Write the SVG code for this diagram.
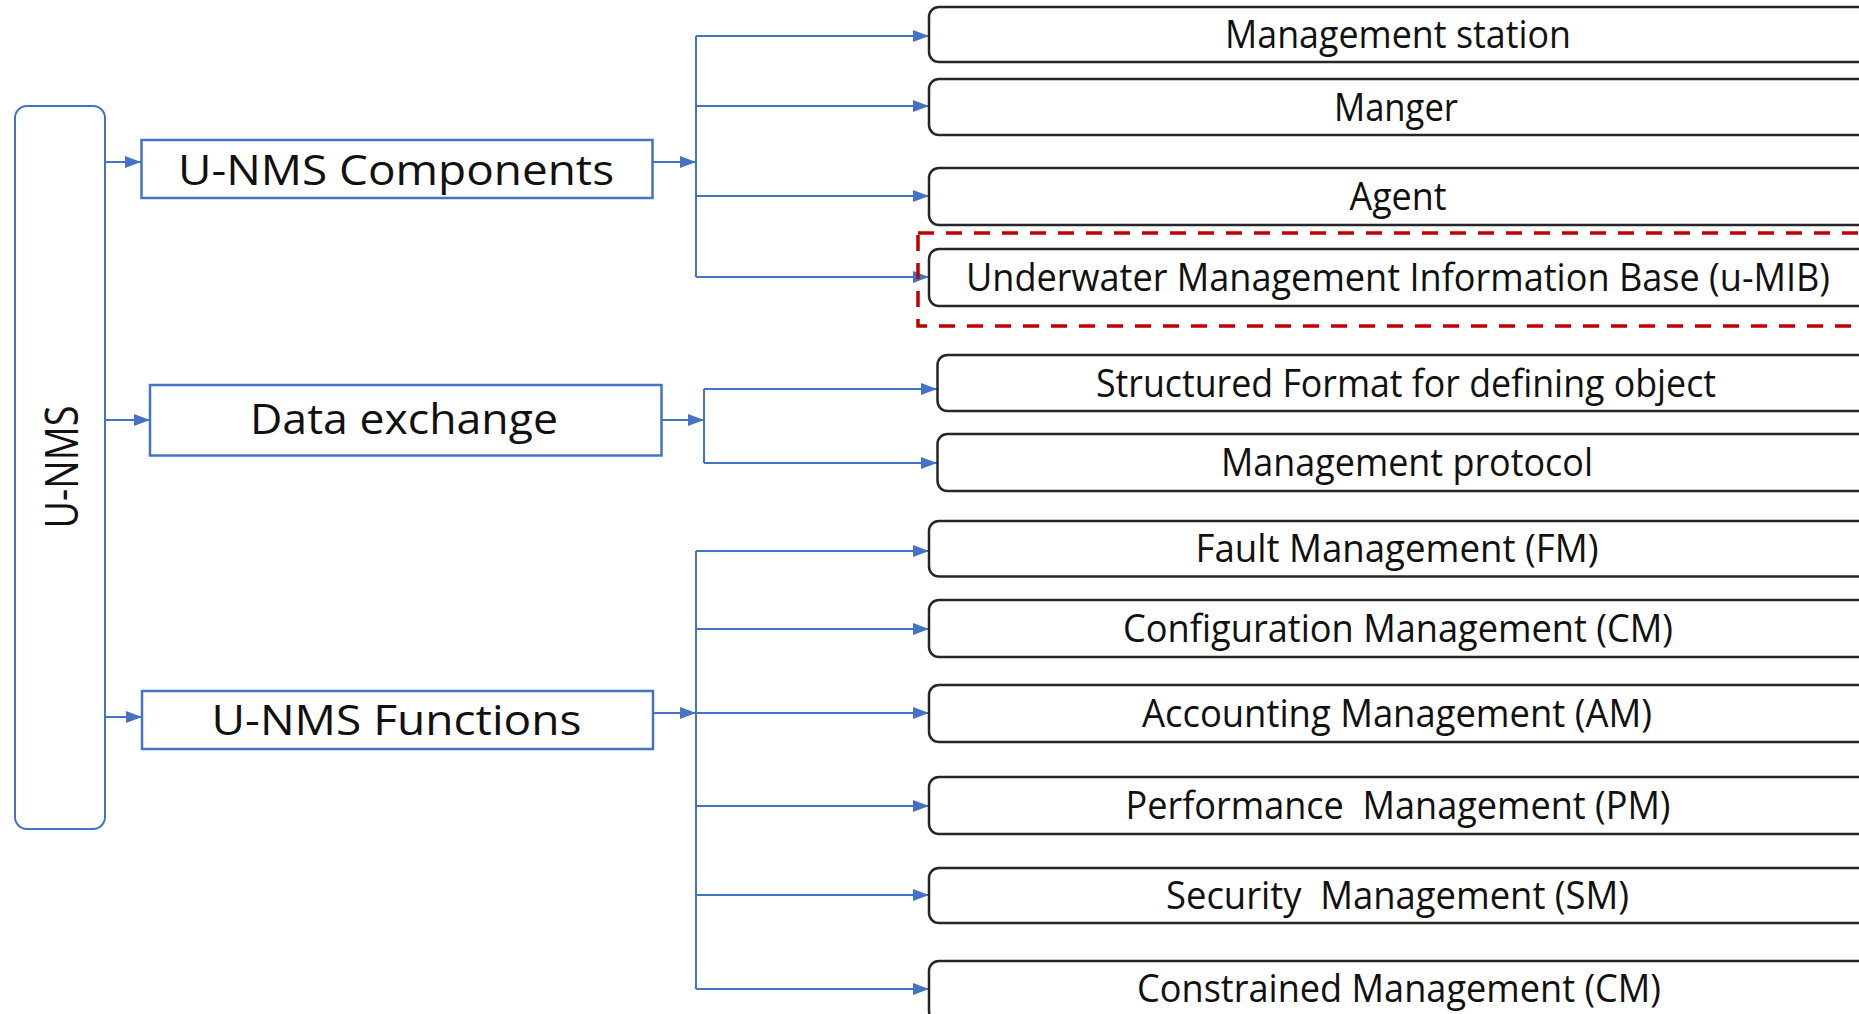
<svg xmlns="http://www.w3.org/2000/svg" width="1859" height="1014" viewBox="0 0 1859 1014">
  <style>
    text { font-family: "Open Sans", "Noto Sans", "DejaVu Sans", sans-serif; fill: #111; }
    .root { fill: #fff; stroke: #4472C4; stroke-width: 2; }
    .cat { fill: #fff; stroke: #4472C4; stroke-width: 2.5; }
    .cat-label { font-size: 42px; text-anchor: middle; }
    .leaf { fill: #fff; stroke: #262626; stroke-width: 2.5; }
    .leaf-label { font-size: 38px; text-anchor: middle; }
    .link { fill: none; stroke: #4472C4; stroke-width: 2; }
    .arrow { marker-end: url(#head); }
    .focus { fill: none; stroke: #C00000; stroke-width: 3.5; stroke-dasharray: 16 12; }
  </style>
  <defs>
    <marker id="head" markerUnits="userSpaceOnUse" markerWidth="16" markerHeight="12" refX="16" refY="6" orient="auto">
      <path d="M0,0 L16,6 L0,12 z" fill="#4472C4"/>
    </marker>
  </defs>

  <rect width="1859" height="1014" fill="#fff"/>

  <!-- connectors -->
  <g id="connectors">
    <!-- root to categories -->
    <line class="link arrow" x1="98" y1="162" x2="141" y2="162"/>
    <line class="link arrow" x1="105" y1="420" x2="150" y2="420"/>
    <line class="link arrow" x1="101" y1="717" x2="142" y2="717"/>

    <!-- components fan-out -->
    <line class="link arrow" x1="653" y1="162" x2="696" y2="162"/>
    <path class="link" d="M696,36 V277"/>
    <line class="link arrow" x1="696" y1="36" x2="929" y2="36"/>
    <line class="link arrow" x1="696" y1="106" x2="929" y2="106"/>
    <line class="link arrow" x1="696" y1="196" x2="929" y2="196"/>
    <line class="link arrow" x1="696" y1="277" x2="929" y2="277"/>

    <!-- data exchange fan-out -->
    <line class="link arrow" x1="662" y1="420" x2="704" y2="420"/>
    <path class="link" d="M704,389 V463"/>
    <line class="link arrow" x1="704" y1="389" x2="937" y2="389"/>
    <line class="link arrow" x1="704" y1="463" x2="937" y2="463"/>

    <!-- functions fan-out -->
    <line class="link arrow" x1="653" y1="713" x2="696" y2="713"/>
    <path class="link" d="M696,551 V989"/>
    <line class="link arrow" x1="696" y1="551" x2="929" y2="551"/>
    <line class="link arrow" x1="696" y1="629" x2="929" y2="629"/>
    <line class="link arrow" x1="696" y1="713" x2="929" y2="713"/>
    <line class="link arrow" x1="696" y1="806" x2="929" y2="806"/>
    <line class="link arrow" x1="696" y1="895" x2="929" y2="895"/>
    <line class="link arrow" x1="696" y1="989" x2="929" y2="989"/>
  </g>

  <!-- root -->
  <g id="node-unms">
    <rect class="root" x="15" y="106" width="90" height="723" rx="12"/>
    <text transform="translate(78,467) rotate(-90)" font-size="46" text-anchor="middle" textLength="123" lengthAdjust="spacingAndGlyphs">U-NMS</text>
  </g>

  <!-- categories -->
  <g id="node-components">
    <rect class="cat" x="141.5" y="140" width="511" height="58"/>
    <text class="cat-label" x="396" y="184.5" textLength="436" lengthAdjust="spacingAndGlyphs">U-NMS Components</text>
  </g>
  <g id="node-data-exchange">
    <rect class="cat" x="150" y="385" width="511.5" height="70.5"/>
    <text class="cat-label" x="404" y="434" textLength="308" lengthAdjust="spacingAndGlyphs">Data exchange</text>
  </g>
  <g id="node-functions">
    <rect class="cat" x="142" y="691" width="511" height="58"/>
    <text class="cat-label" x="396.5" y="735" textLength="370" lengthAdjust="spacingAndGlyphs">U-NMS Functions</text>
  </g>

  <!-- components -->
  <g id="node-management-station">
    <rect class="leaf" x="929" y="7" width="960" height="55" rx="10"/>
    <text class="leaf-label" x="1398" y="48" textLength="346" lengthAdjust="spacingAndGlyphs">Management station</text>
  </g>
  <g id="node-manger">
    <rect class="leaf" x="929" y="79" width="960" height="56" rx="10"/>
    <text class="leaf-label" x="1396" y="120.5" textLength="124" lengthAdjust="spacingAndGlyphs">Manger</text>
  </g>
  <g id="node-agent">
    <rect class="leaf" x="929" y="168" width="960" height="57" rx="10"/>
    <text class="leaf-label" x="1398" y="210" textLength="97" lengthAdjust="spacingAndGlyphs">Agent</text>
  </g>
  <g id="node-umib">
    <rect class="leaf" x="929" y="249" width="960" height="57" rx="10"/>
    <text class="leaf-label" x="1398" y="291" textLength="864" lengthAdjust="spacingAndGlyphs">Underwater Management Information Base (u-MIB)</text>
  </g>
  <g id="highlight-umib">
    <rect class="focus" x="918" y="233" width="980" height="93"/>
  </g>

  <!-- data exchange -->
  <g id="node-structured-format">
    <rect class="leaf" x="937.5" y="355" width="960" height="56" rx="10"/>
    <text class="leaf-label" x="1406" y="396.5" textLength="620" lengthAdjust="spacingAndGlyphs">Structured Format for defining object</text>
  </g>
  <g id="node-management-protocol">
    <rect class="leaf" x="937.5" y="434" width="960" height="57" rx="10"/>
    <text class="leaf-label" x="1407" y="476" textLength="372" lengthAdjust="spacingAndGlyphs">Management protocol</text>
  </g>

  <!-- functions -->
  <g id="node-fm">
    <rect class="leaf" x="929" y="521" width="960" height="55.5" rx="10"/>
    <text class="leaf-label" x="1397" y="562" textLength="403" lengthAdjust="spacingAndGlyphs">Fault Management (FM)</text>
  </g>
  <g id="node-cm">
    <rect class="leaf" x="929" y="600" width="960" height="57" rx="10"/>
    <text class="leaf-label" x="1398" y="642" textLength="550" lengthAdjust="spacingAndGlyphs">Configuration Management (CM)</text>
  </g>
  <g id="node-am">
    <rect class="leaf" x="929" y="685" width="960" height="57" rx="10"/>
    <text class="leaf-label" x="1397" y="727" textLength="510" lengthAdjust="spacingAndGlyphs">Accounting Management (AM)</text>
  </g>
  <g id="node-pm">
    <rect class="leaf" x="929" y="777" width="960" height="57" rx="10"/>
    <text class="leaf-label" x="1398" y="819" xml:space="preserve" textLength="545" lengthAdjust="spacingAndGlyphs">Performance  Management (PM)</text>
  </g>
  <g id="node-sm">
    <rect class="leaf" x="929" y="868" width="960" height="55" rx="10"/>
    <text class="leaf-label" x="1397.5" y="909" xml:space="preserve" textLength="463" lengthAdjust="spacingAndGlyphs">Security  Management (SM)</text>
  </g>
  <g id="node-constrained">
    <rect class="leaf" x="929" y="961" width="960" height="60" rx="10"/>
    <text class="leaf-label" x="1399" y="1002" textLength="524" lengthAdjust="spacingAndGlyphs">Constrained Management (CM)</text>
  </g>
</svg>
